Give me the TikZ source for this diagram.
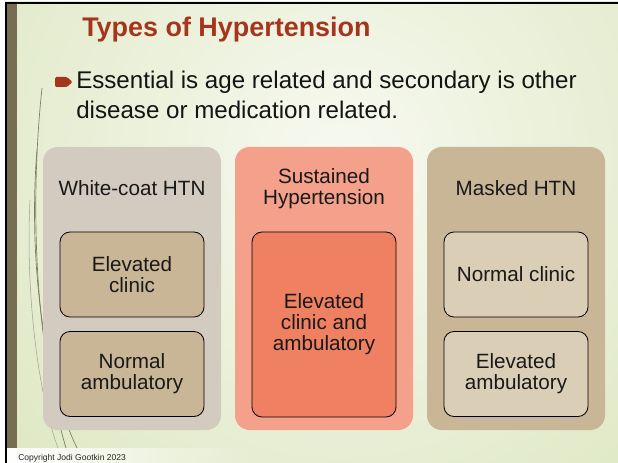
\documentclass[tikz,border=0pt]{standalone}
\usepackage{fontspec}
\setmainfont{Liberation Sans}
\usetikzlibrary{fadings}
\definecolor{bggreen}{HTML}{DFE8C4}
\definecolor{bglight}{HTML}{F7F9F0}
\definecolor{olive}{HTML}{766D52}
\definecolor{titlered}{HTML}{A5351C}
\definecolor{greybox}{HTML}{D3CAC0}
\definecolor{tanbox}{HTML}{C8B696}
\definecolor{salmonbox}{HTML}{F4A08A}
\definecolor{coralbox}{HTML}{F08062}
\definecolor{sandbox}{HTML}{DACEB6}
\definecolor{grass}{HTML}{7F7A66}
\tikzstyle{groupbox}  = [rectangle, rounded corners=11pt, minimum width=133.5pt, minimum height=212.25pt, inner sep=0pt]
\tikzstyle{grouphead} = [align=center, font=\fontsize{15.5}{15.75}\selectfont, text=black!90, inner sep=0pt]
\tikzstyle{cellbox}   = [rectangle, rounded corners=7.5pt, minimum width=108pt, minimum height=63.75pt, draw=black, line width=0.6pt, align=center, font=\fontsize{15.5}{15.75}\selectfont, text=black!90]
\tikzstyle{bodyline}  = [anchor=base west, inner sep=0pt, font=\fontsize{18.1}{22.5}\selectfont, text=black!92]

\begin{document}
\begin{tikzpicture}[x=0.75pt,y=-0.75pt]
		\useasboundingbox (0,0) rectangle (618,463);

		\fill[bggreen] (5,2) rectangle (618,463);
		\begin{scope}
			\clip (5,2) rectangle (618,463);
			\shade[inner color=bglight, outer color=bggreen] (340,160) circle (440);
			\fill[white, path fading=east] (7,448) rectangle (260,463);
		\end{scope}

		\draw[grass, line width=0.5pt] (42,88) .. controls (30,200) and (34,340) .. (66,448);
		\draw[grass, line width=0.5pt] (37,150) .. controls (28,260) and (44,380) .. (77,448);
		\draw[grass!70, line width=0.4pt] (30,200) .. controls (25,300) and (40,400) .. (58,448);

		\fill[olive] (7,4) rectangle (17,448);
		\fill[black] (5,2) rectangle (618,4);
		\fill[black] (5,2) rectangle (7,463);

		\node[anchor=base west, inner sep=0pt, font=\fontsize{20.2}{24}\bfseries\selectfont, text=titlered] (title) at (82,36.5) {Types of Hypertension};

		\fill[titlered, rounded corners=1pt] (55,77) -- (67,77) -- (72.5,82) -- (67,87) -- (55,87) -- cycle;
		\node[bodyline] (line1) at (76,89) {Essential is age related and secondary is other};
		\node[bodyline] (line2) at (76,119) {disease or medication related.};

		\node[groupbox, fill=greybox] (white) at (132,288.5) {};
		\node[groupbox, fill=salmonbox] (sustained) at (324,288.5) {};
		\node[groupbox, fill=tanbox] (masked) at (516,288.5) {};

		\node[grouphead] (whitehead) at (132,188) {White-coat HTN};
		\node[grouphead] (sustainedhead) at (324,188.5) {Sustained\\Hypertension};
		\node[grouphead] (maskedhead) at (516,188) {Masked HTN};

		\node[cellbox, fill=tanbox] (whiteclinic) at (132,274.5) {Elevated\\clinic};
		\node[cellbox, fill=tanbox] (whiteamb) at (132,374) {Normal\\ambulatory};
		\node[cellbox, fill=coralbox, minimum height=138.75pt] (sustainedboth) at (324,324.5) {Elevated\\clinic and\\ambulatory};
		\node[cellbox, fill=sandbox] (maskedclinic) at (516,274.5) {Normal clinic};
		\node[cellbox, fill=sandbox] (maskedamb) at (516,374) {Elevated\\ambulatory};

		\node[anchor=base west, inner sep=0pt, font=\fontsize{6.4}{7}\selectfont, text=black!85] (copyright) at (18,460.5) {Copyright Jodi Gootkin 2023};
	\end{tikzpicture}
\end{document}
